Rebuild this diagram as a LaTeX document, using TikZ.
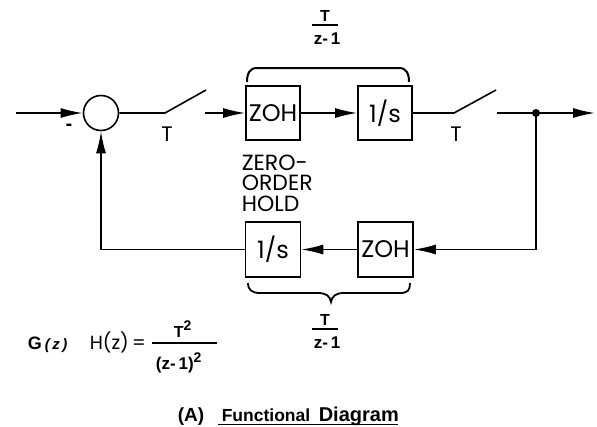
\documentclass[tikz,border=0pt]{standalone}
\usepackage{fontspec}
\setmainfont{Liberation Sans}
\newfontfamily\geo{Poppins}
\usetikzlibrary{arrows.meta}
\begin{document}
\begin{tikzpicture}[x=1pt,y=-1pt,
  line width=1.6pt,
  ar/.style={-{Latex[length=22pt,width=10pt]}},
  blk/.style={draw,line width=1.6pt,minimum width=54pt,minimum height=54pt,inner sep=0pt,font=\geo\fontsize{24}{24}\selectfont},
  lbl/.style={inner sep=0pt,font=\geo\fontsize{21}{21}\selectfont},
  fr/.style={inner sep=0pt,font=\bfseries\fontsize{17}{17}\selectfont},
  txt/.style={inner sep=0pt},
]
\useasboundingbox (0,0) rectangle (597,426);
% forward path
\coordinate (in) at (16,113);
\node[draw,circle,minimum size=35pt,inner sep=0pt,line width=1.6pt] (sum) at (101,113) {};
\coordinate (p1) at (165,113);
\coordinate (b1) at (206,90);
\coordinate (s1) at (205,113);
\node[blk] (zoh1) at (273,113) {ZOH};
\node[blk] (int1) at (385,113) {1/s};
\coordinate (p2) at (454,113);
\coordinate (b2) at (496,90);
\coordinate (s2) at (497,113);
\coordinate (out) at (595,113);
\node[circle,fill,inner sep=0pt,minimum size=8pt] (dot) at (536,113) {};
% feedback path
\node[blk,minimum width=55pt,minimum height=55pt] (zoh2) at (385.5,249.5) {ZOH};
\node[blk,minimum width=55pt,minimum height=55pt] (int2) at (273,249.5) {1/s};

\draw[ar] (in) -- (sum);
\draw (sum) -- (p1) -- (b1);
\draw[ar] (s1) -- (zoh1);
\draw[ar] (zoh1) -- (int1);
\draw (int1) -- (p2) -- (b2);
\draw[ar] (s2) -- (out);
\draw[ar] (dot.center) |- (zoh2);
\draw[ar] (zoh2) -- (int2);
\draw[ar] (int2) -| (sum);

% labels
\node[lbl,font=\bfseries\fontsize{20}{20}\selectfont] (minus) at (69,127) {-};
\node[lbl] (T1) at (167,134) {T};
\node[lbl] (T2) at (456,134) {T};
\node[anchor=west,align=left,inner sep=0pt,font=\geo\fontsize{22}{20.5}\selectfont] (zlabel) at (241,183) {ZERO-\\ORDER\\HOLD};

% top bracket
\draw[line width=2pt] (247,82) .. controls (247,73) and (250,68) .. (257,68) -- (399,68) .. controls (406,68) and (409,73) .. (409,82);
\node[fr,font=\bfseries\fontsize{16}{16}\selectfont] (tu) at (325,16) {T};
\draw[line width=1.1pt] (312,25) -- (338,25);
\node[fr] (zu) at (327,39) {z-\,1};

% bottom brace
\draw[line width=1.8pt] (248,283) .. controls (248,290) and (252,293) .. (260,293) -- (318,293) .. controls (326,293) and (330,296) .. (331,302) .. controls (332,296) and (336,293) .. (344,293) -- (400,293) .. controls (408,293) and (410,290) .. (410,283);
\node[fr,font=\bfseries\fontsize{16}{16}\selectfont] (tl) at (325,320) {T};
\draw[line width=1.1pt] (312,329) -- (338,329);
\node[fr] (zl) at (327,343) {z-\,1};

% formula
\node[anchor=base west,txt,font=\bfseries\fontsize{18}{18}\selectfont] (G) at (27,349) {G};
\node[anchor=base west,txt,font=\bfseries\itshape\fontsize{15}{15}\selectfont] (Gz) at (44,349) {(\,z\,)};
\node[anchor=base west,txt,font=\geo\fontsize{19}{19}\selectfont] (H) at (89,349) {H(z)\,=};
\draw[line width=1.1pt] (152,343) -- (217,343);
\node[txt,font=\bfseries\fontsize{16}{16}\selectfont] (num) at (183,329) {T\textsuperscript{\fontsize{14}{14}\selectfont 2}};
\node[txt,font=\bfseries\fontsize{17}{17}\selectfont] (den) at (179,363) {(z-\,1)\textsuperscript{\fontsize{14}{14}\selectfont 2}};

% caption
\node[anchor=base west,txt,font=\bfseries\fontsize{19}{19}\selectfont] (A) at (177,421) {(A)};
\node[anchor=base west,txt,font=\bfseries\fontsize{17.5}{17.5}\selectfont] (F) at (221,421) {Functional};
\node[anchor=base west,txt,font=\bfseries\fontsize{20}{20}\selectfont] (D) at (318,421) {Diagram};
\draw[line width=1pt] (218,424.5) -- (398,424.5);
\end{tikzpicture}
\end{document}
